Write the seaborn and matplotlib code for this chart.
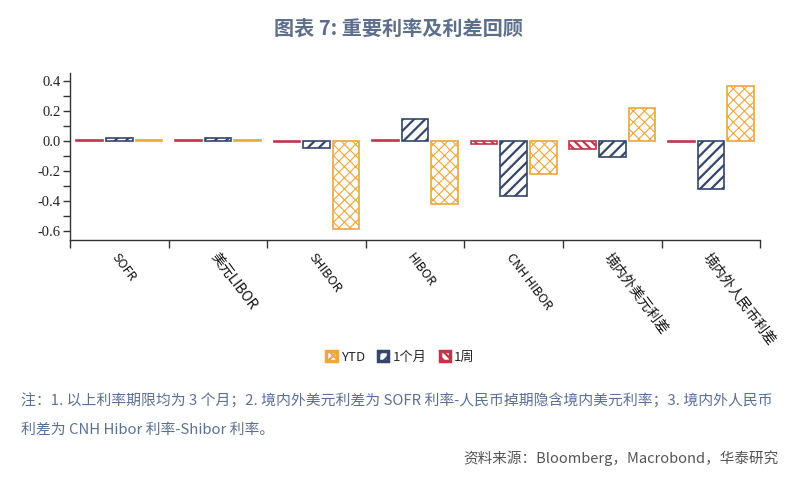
import matplotlib
matplotlib.use("Agg")
import matplotlib.pyplot as plt
from matplotlib.patches import Patch
from matplotlib.ticker import MultipleLocator, FixedLocator
import pandas as pd
import seaborn as sns

# values
categories = ["SOFR", "美元LIBOR", "SHIBOR", "HIBOR", "CNH HIBOR", "境内外美元利差", "境内外人民币利差"]
week_chg = [0.005, 0.005, -0.005, 0.003, -0.02, -0.055, -0.005]
month_chg = [0.018, 0.018, -0.05, 0.145, -0.37, -0.11, -0.32]
ytd_chg = [0.005, 0.005, -0.59, -0.42, -0.22, 0.22, 0.37]

series = ["1周", "1个月", "YTD"]
colors = {"1周": "#C0364A", "1个月": "#34466A", "YTD": "#EFA63A"}
hatches = {"1周": "\\\\\\\\", "1个月": "///", "YTD": "xxx"}

df = pd.DataFrame({
    "cat": categories * 3,
    "series": [s for s in series for _ in categories],
    "value": week_chg + month_chg + ytd_chg,
})

sns.set_style("white")
plt.rcParams["font.family"] = ["Noto Sans CJK SC", "DejaVu Sans"]
plt.rcParams["hatch.linewidth"] = 1.6

fig = plt.figure(figsize=(7.96, 4.8), dpi=100)
ax = fig.add_axes([0.088, 0.5, 0.867, 0.348])

sns.barplot(data=df, x="cat", y="value", hue="series", hue_order=series,
            order=categories, width=0.9, gap=0.1, palette=colors,
            legend=False, ax=ax)

for cont, s in zip(ax.containers, series):
    for bar in cont:
        bar.set_facecolor("white")
        bar.set_edgecolor(colors[s])
        bar.set_linewidth(1.2)
        bar.set_hatch(hatches[s])
        try:
            bar.set_hatchcolor(colors[s])
        except AttributeError:
            pass
        if s == "YTD":
            try:
                bar.set_hatch_linewidth(0.8)
            except AttributeError:
                pass

ax.set_xlim(-0.5, len(categories) - 0.5)
ax.set_ylim(-0.663, 0.455)
ax.set_xlabel("")
ax.set_ylabel("")

for side in ["top", "right"]:
    ax.spines[side].set_visible(False)
for side in ["left", "bottom"]:
    ax.spines[side].set_color("#333333")
    ax.spines[side].set_linewidth(1.0)

ax.yaxis.set_major_locator(FixedLocator([-0.6, -0.4, -0.2, 0.0, 0.2, 0.4]))
ax.yaxis.set_minor_locator(MultipleLocator(0.1))
ax.set_yticklabels(["-0.6", "-0.4", "-0.2", "0.0", "0.2", "0.4"],
                   family="Liberation Serif", fontsize=10.5, color="#222222")
ax.tick_params(axis="y", which="both", direction="out", length=5, width=1,
               color="#333333", left=True, pad=2)

ax.xaxis.set_minor_locator(FixedLocator([i - 0.5 for i in range(len(categories) + 1)]))
ax.tick_params(axis="x", which="minor", direction="out", length=6, width=1,
               color="#333333", bottom=True)
ax.tick_params(axis="x", which="major", length=0, pad=8)
ax.set_xticks(range(len(categories)))
ax.set_xticklabels(categories, rotation=-53, ha="left", va="top",
                   rotation_mode="anchor", color="#111111")
for lab in ax.get_xticklabels():
    lab.set_fontsize(9 if lab.get_text().isascii() else 10)

handles = [Patch(facecolor="white", edgecolor=colors[s], hatch=hatches[s],
                 linewidth=2.5, label=s) for s in ["YTD", "1个月", "1周"]]
fig.legend(handles=handles, loc="center", bbox_to_anchor=(0.503, 0.256),
           ncol=3, frameon=False, handlelength=0.8, handleheight=0.8,
           handletextpad=0.3, columnspacing=1.0, fontsize=9.5)

fig.text(0.5, 0.942, "图表 7: 重要利率及利差回顾", ha="center", va="center",
         fontsize=14.5, fontweight="bold", color="#5E6F8C")

note_color = "#5A6F93"
fig.text(0.026, 0.165,
         "注：1. 以上利率期限均为 3 个月；2. 境内外美元利差为 SOFR 利率-人民币掉期隐含境内美元利率；3. 境内外人民币",
         ha="left", va="center", fontsize=10.7, color=note_color)
fig.text(0.026, 0.104, "利差为 CNH Hibor 利率-Shibor 利率。",
         ha="left", va="center", fontsize=10.7, color=note_color)
fig.text(0.978, 0.046, "资料来源：Bloomberg，Macrobond，华泰研究",
         ha="right", va="center", fontsize=10.5, color="#555555")

fig.savefig("out.png", dpi=100, facecolor="white")
